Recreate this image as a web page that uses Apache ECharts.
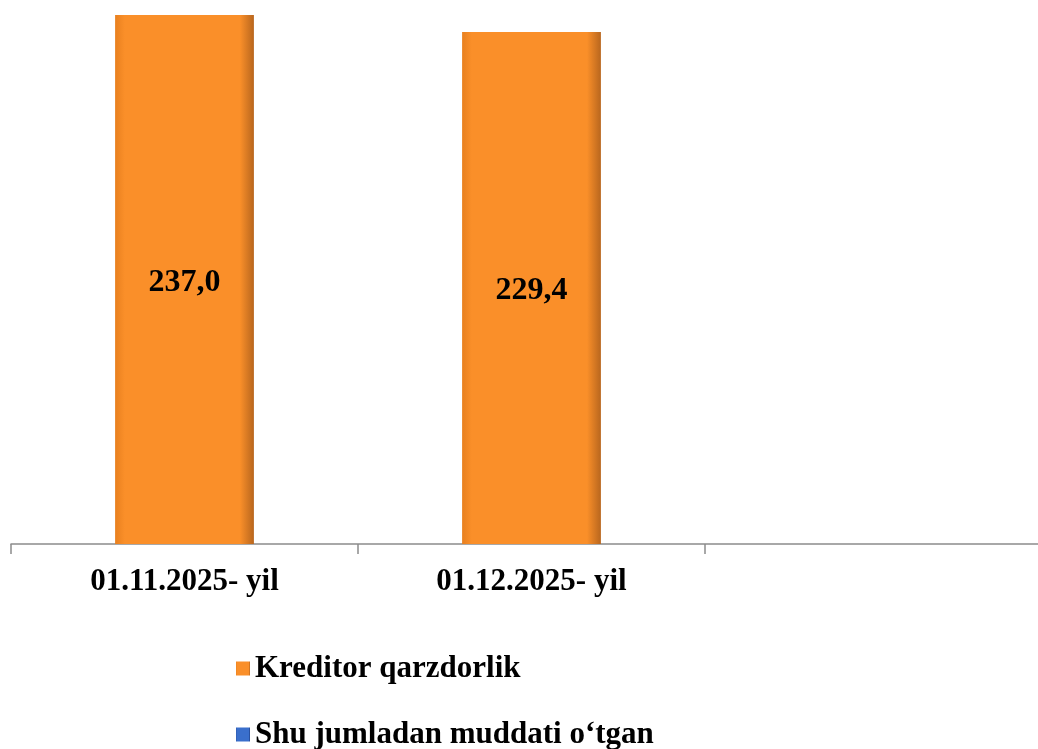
<!DOCTYPE html>
<html>
<head>
<meta charset="utf-8">
<script src="https://cdn.jsdelivr.net/npm/echarts@6/dist/echarts.min.js"></script>
<style>
  html, body { margin: 0; padding: 0; background: #fff; overflow: hidden; }
  /* the plot runs past the right edge, as in the original slide */
  #chart { width: 1052px; height: 749px; }
</style>
</head>
<body>
<div id="chart"></div>
<script>
// data
const categories = ['01.11.2025- yil', '01.12.2025- yil', '']
const seriesNames = ['Kreditor qarzdorlik', 'Shu jumladan muddati o\u2018tgan']
const kreditor = [237.0, 229.4, null]
const muddati = [0, 0, null]

const font = '"Liberation Serif", "Times New Roman", serif'

function bevel(edgeL, mid, edgeR) {
  return new echarts.graphic.LinearGradient(0, 0, 1, 0, [
    { offset: 0, color: edgeL },
    { offset: 0.07, color: mid },
    { offset: 0.9, color: mid },
    { offset: 1, color: edgeR }
  ])
}

const legendText = {
  fontFamily: font,
  fontWeight: 'bold',
  fontSize: 31,
  color: '#000'
}

const chart = echarts.init(document.getElementById('chart'))
chart.setOption({
  animation: false,
  grid: {
    left: 11,
    right: 0,
    top: 15,
    bottom: 205,
    containLabel: false
  },
  legend: [
    {
      left: 231,
      top: 648,
      itemWidth: 14,
      itemHeight: 14,
      icon: 'rect',
      textStyle: legendText,
      data: [seriesNames[0]]
    },
    {
      left: 231,
      top: 714,
      itemWidth: 14,
      itemHeight: 14,
      icon: 'rect',
      textStyle: legendText,
      data: [seriesNames[1]]
    }
  ],
  xAxis: {
    type: 'category',
    data: categories,
    axisLine: { lineStyle: { color: '#8c8c8c', width: 1.5 } },
    axisTick: { show: true, length: 10, lineStyle: { color: '#8c8c8c', width: 1.5 } },
    axisLabel: {
      margin: 22,
      fontFamily: font,
      fontWeight: 'bold',
      fontSize: 31,
      color: '#000'
    },
    splitLine: { show: false }
  },
  yAxis: {
    type: 'value',
    min: 0,
    max: 237,
    show: false,
    splitLine: { show: false }
  },
  series: [
    {
      name: seriesNames[0],
      type: 'bar',
      stack: 'total',
      barWidth: '40%',
      data: kreditor,
      itemStyle: {
        color: bevel('#e8801f', '#fa8f29', '#b8661e')
      },
      label: {
        show: true,
        position: 'inside',
        offset: [0, 3],
        fontFamily: font,
        fontWeight: 'bold',
        fontSize: 32,
        color: '#000',
        formatter(p) {
          return p.value == null ? '' : p.value.toFixed(1).replace('.', ',')
        }
      }
    },
    {
      name: seriesNames[1],
      type: 'bar',
      stack: 'total',
      barWidth: '40%',
      data: muddati,
      itemStyle: {
        color: bevel('#2a55a8', '#3a6fcc', '#1f4088')
      },
      label: { show: false }
    }
  ]
})
</script>
</body>
</html>
